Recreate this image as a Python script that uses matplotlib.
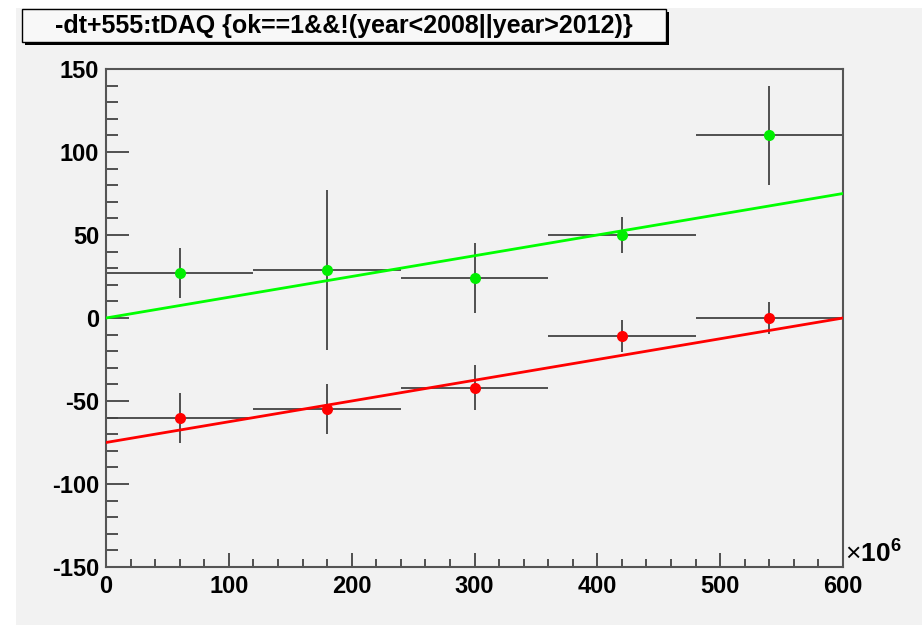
import matplotlib
matplotlib.use("Agg")
import matplotlib.pyplot as plt
from matplotlib.patches import Rectangle
from matplotlib.ticker import MultipleLocator
import numpy as np

# ---- data (x in units of 1e6) ----
bin_centers = [60, 180, 300, 420, 540]
bin_halfwidth = [60, 60, 60, 60, 60]
green_y = [27, 29, 24, 50, 110]
green_err = [15, 48, 21, 11, 30]
red_y = [-60, -55, -42, -11, 0]
red_err = [15, 15, 13.5, 9.5, 9.5]
green_fit = (0.0, 0.125)     # intercept, slope
red_fit = (-75.0, 0.125)
fit_range = [0, 600]
title = "-dt+555:tDAQ {ok==1&&!(year<2008||year>2012)}"
xticks = [0, 100, 200, 300, 400, 500, 600]
yticks = [-150, -100, -50, 0, 50, 100, 150]

plt.rcParams['font.family'] = ['Liberation Sans', 'DejaVu Sans']
plt.rcParams['axes.unicode_minus'] = False
plt.rcParams['mathtext.fontset'] = 'custom'
plt.rcParams['mathtext.rm'] = 'Liberation Sans'
plt.rcParams['mathtext.bf'] = 'Liberation Sans:bold'

W, H = 922, 625
fig = plt.figure(figsize=(W / 100, H / 100), dpi=100)
fig.patch.set_facecolor('white')
bg = '#f2f2f2'
# gray canvas
fig.patches.append(Rectangle((16 / W, 0), 1 - 16 / W, 1 - 8 / H, transform=fig.transFigure,
                             facecolor=bg, edgecolor='none', zorder=-10))

L, R, T, B = 106, 843, 69, 567
ax = fig.add_axes([L / W, (H - B) / H, (R - L) / W, (B - T) / H])
ax.set_zorder(1)
ax.set_facecolor(bg)

ebc = '#444444'
ax.errorbar(bin_centers, green_y, xerr=bin_halfwidth, yerr=green_err, fmt='none',
            ecolor=ebc, elinewidth=1.3, capsize=0, zorder=2)
ax.errorbar(bin_centers, red_y, xerr=bin_halfwidth, yerr=red_err, fmt='none',
            ecolor=ebc, elinewidth=1.3, capsize=0, zorder=2)

fx = np.array(fit_range, dtype=float)
ax.plot(fx, green_fit[0] + green_fit[1] * fx, color='#00ff00', lw=2, zorder=3)
ax.plot(fx, red_fit[0] + red_fit[1] * fx, color='#ff0000', lw=2, zorder=3)

ax.plot(bin_centers, green_y, 'o', color='#00ee00', ms=8, mec='none', zorder=4)
ax.plot(bin_centers, red_y, 'o', color='#ff0000', ms=8, mec='none', zorder=4)

ax.set_xlim(0, 600)
ax.set_ylim(-150, 150)
ax.set_xticks(xticks)
ax.set_yticks(yticks)
ax.xaxis.set_minor_locator(MultipleLocator(20))
ax.yaxis.set_minor_locator(MultipleLocator(10))
ax.tick_params(which='both', direction='in', color='#444444', width=1.3,
               top=False, right=False)
ax.tick_params(axis='y', which='major', length=16.5, pad=5)
ax.tick_params(axis='y', which='minor', length=8.5)
ax.tick_params(axis='x', which='major', length=10, pad=6)
ax.tick_params(axis='x', which='minor', length=5.5)
for lab in ax.get_xticklabels() + ax.get_yticklabels():
    lab.set_fontsize(17)
    lab.set_fontweight('bold')
for s in ax.spines.values():
    s.set_color('#555555')
    s.set_linewidth(1.5)

ax.text(1.003, 0.0, r'$\times\mathbf{10}^{\mathbf{6}}$', transform=ax.transAxes,
        ha='left', va='bottom', fontsize=19)

# title box with shadow
bx0, by0, bx1, by1 = 22, 9, 666, 42
fig.patches.append(Rectangle(((bx0 + 3) / W, 1 - (by1 + 3) / H), (bx1 - bx0) / W, (by1 - by0) / H,
                             transform=fig.transFigure, facecolor='black', edgecolor='none', zorder=5))
fig.patches.append(Rectangle((bx0 / W, 1 - by1 / H), (bx1 - bx0) / W, (by1 - by0) / H,
                             transform=fig.transFigure, facecolor='#f8f8f8', edgecolor='black',
                             lw=1.0, zorder=6))
fig.text((bx0 + bx1) / 2 / W, 1 - (by0 + by1) / 2 / H, title, ha='center', va='center',
         fontsize=18, fontweight='bold', zorder=7)

fig.savefig('out.png', dpi=100, facecolor=fig.get_facecolor())
